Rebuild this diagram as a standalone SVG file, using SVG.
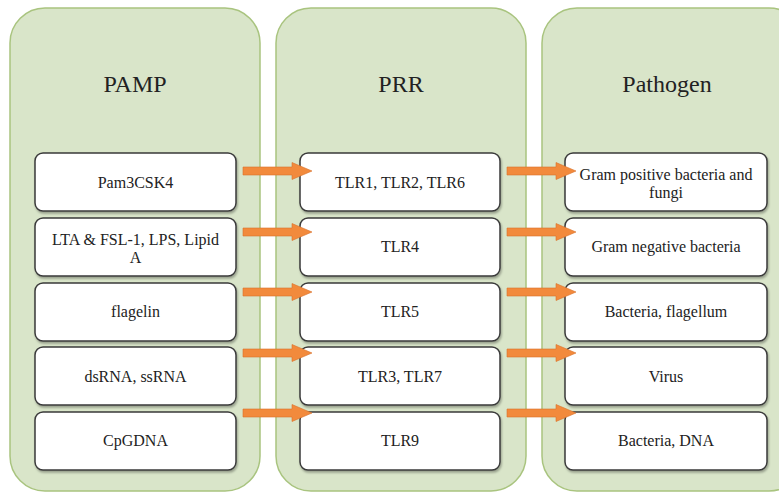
<svg xmlns="http://www.w3.org/2000/svg" width="779" height="493" viewBox="0 0 779 493">
<defs>
<style>
.col{fill:#D9E5C9;stroke:#A9C47F;stroke-width:1.5}
.box{fill:#FFFFFF;stroke:#3A3A3A;stroke-width:1.5}
text{font-family:'Liberation Serif','Times New Roman','DejaVu Serif',serif;fill:#222;text-anchor:middle}
.title{font-size:24px}
.lbl{font-size:16px}
.arr{fill:#F28A3C;stroke:#D9702A;stroke-width:0.6}
</style>
<filter id="sh" x="-10%" y="-10%" width="120%" height="130%">
<feDropShadow dx="1" dy="2" stdDeviation="1.2" flood-color="#000" flood-opacity="0.3"/>
</filter>
<path id="arrow" d="M0,-4 H49 V-8.5 L69,0 L49,8.5 V4 H0 Z"/>
</defs>
<rect width="779" height="493" fill="#FFFFFF"/>

<g font-family="Liberation Serif, Times New Roman, DejaVu Serif, serif">
<g id="col-pamp">
<rect class="col" x="10" y="8" width="250" height="483" rx="35"/>
<text class="title" x="135" y="92">PAMP</text>
</g>
<g id="col-prr">
<rect class="col" x="276" y="8" width="250" height="483" rx="35"/>
<text class="title" x="401" y="92">PRR</text>
</g>
<g id="col-pathogen">
<rect class="col" x="542" y="8" width="262" height="483" rx="35"/>
<text class="title" x="667" y="92">Pathogen</text>
</g>

<g id="pamp1"><rect class="box" filter="url(#sh)" x="35" y="153" width="201" height="58" rx="8"/><text class="lbl" x="135.5" y="188">Pam3CSK4</text></g>
<g id="pamp2"><rect class="box" filter="url(#sh)" x="35" y="218" width="201" height="58" rx="8"/><text class="lbl" x="135.5" y="245">LTA &amp; FSL-1, LPS, Lipid</text><text class="lbl" x="135.5" y="263">A</text></g>
<g id="pamp3"><rect class="box" filter="url(#sh)" x="35" y="283" width="201" height="58" rx="8"/><text class="lbl" x="135.5" y="317">flagelin</text></g>
<g id="pamp4"><rect class="box" filter="url(#sh)" x="35" y="347" width="201" height="58" rx="8"/><text class="lbl" x="135.5" y="382">dsRNA, ssRNA</text></g>
<g id="pamp5"><rect class="box" filter="url(#sh)" x="35" y="412" width="201" height="58" rx="8"/><text class="lbl" x="135.5" y="446">CpGDNA</text></g>

<g id="prr1"><rect class="box" filter="url(#sh)" x="300" y="153" width="200" height="58" rx="8"/><text class="lbl" x="400" y="188">TLR1, TLR2, TLR6</text></g>
<g id="prr2"><rect class="box" filter="url(#sh)" x="300" y="218" width="200" height="58" rx="8"/><text class="lbl" x="400" y="252">TLR4</text></g>
<g id="prr3"><rect class="box" filter="url(#sh)" x="300" y="283" width="200" height="58" rx="8"/><text class="lbl" x="400" y="317">TLR5</text></g>
<g id="prr4"><rect class="box" filter="url(#sh)" x="300" y="347" width="200" height="58" rx="8"/><text class="lbl" x="400" y="382">TLR3, TLR7</text></g>
<g id="prr5"><rect class="box" filter="url(#sh)" x="300" y="412" width="200" height="58" rx="8"/><text class="lbl" x="400" y="446">TLR9</text></g>

<g id="path1"><rect class="box" filter="url(#sh)" x="565" y="153" width="202" height="58" rx="8"/><text class="lbl" x="666" y="180">Gram positive bacteria and</text><text class="lbl" x="666" y="198">fungi</text></g>
<g id="path2"><rect class="box" filter="url(#sh)" x="565" y="218" width="202" height="58" rx="8"/><text class="lbl" x="666" y="252">Gram negative bacteria</text></g>
<g id="path3"><rect class="box" filter="url(#sh)" x="565" y="283" width="202" height="58" rx="8"/><text class="lbl" x="666" y="317">Bacteria, flagellum</text></g>
<g id="path4"><rect class="box" filter="url(#sh)" x="565" y="347" width="202" height="58" rx="8"/><text class="lbl" x="666" y="382">Virus</text></g>
<g id="path5"><rect class="box" filter="url(#sh)" x="565" y="412" width="202" height="58" rx="8"/><text class="lbl" x="666" y="446">Bacteria, DNA</text></g>
</g>

<g id="connectors">
<use href="#arrow" class="arr" x="243" y="171"/>
<use href="#arrow" class="arr" x="243" y="232"/>
<use href="#arrow" class="arr" x="243" y="292"/>
<use href="#arrow" class="arr" x="243" y="353"/>
<use href="#arrow" class="arr" x="243" y="413"/>
<use href="#arrow" class="arr" x="507" y="171"/>
<use href="#arrow" class="arr" x="507" y="232"/>
<use href="#arrow" class="arr" x="507" y="292"/>
<use href="#arrow" class="arr" x="507" y="353"/>
<use href="#arrow" class="arr" x="507" y="413"/>
</g>
</svg>
